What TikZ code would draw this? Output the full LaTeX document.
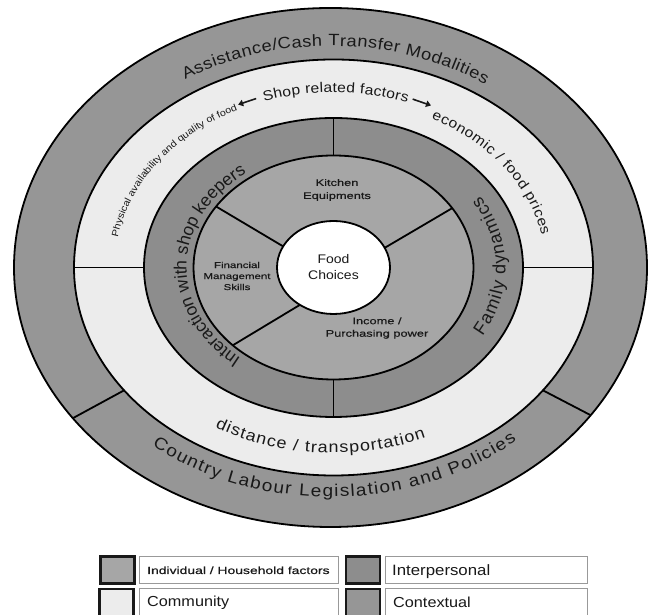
\documentclass[tikz,border=0pt]{standalone}
\usepackage{fontspec}
\setmainfont{Liberation Sans}
\newfontfamily\dfont[FakeStretch=1.12]{Liberation Sans}
\newfontfamily\sfontn{Liberation Sans}
\newfontfamily\wfont[FakeStretch=1.35,FakeBold=0.6]{Liberation Sans}
\usetikzlibrary{decorations.text, calc, arrows.meta}
\definecolor{ctxgray}{RGB}{150,150,150}
\definecolor{intgray}{RGB}{141,141,141}
\definecolor{indgray}{RGB}{166,166,166}
\definecolor{comgray}{RGB}{236,236,236}
\definecolor{txt}{RGB}{25,25,25}
\tikzset{
  ring/.style={draw=black, line width=1.8pt},
  divider/.style={draw=black, line width=1.8pt},
  shoparrow/.style={draw=txt, line width=1.6pt, -{Triangle[length=5pt,width=6.5pt]}},
  swatch/.style={draw=black!90, line width=2.2pt, minimum width=34pt, minimum height=27pt, inner sep=0pt},
  legbox/.style={draw=black!40, line width=1pt, fill=white, minimum width=199pt, minimum height=27pt, inner sep=0pt},
  lbl/.style={inner sep=0pt, text=txt, align=center},
  leglbl/.style={inner sep=0pt, text=txt, anchor=base west}
}
\begin{document}
\begin{tikzpicture}[x=1pt, y=1pt]
\useasboundingbox (0,0) rectangle (648,615);
\clip (0,0) rectangle (648,615);
\fill[white] (0,0) rectangle (648,615);
\coordinate (c) at (333.5,347.5);
\coordinate (co) at (330.5,347.5);

% rings
\draw[ring, fill=ctxgray] (co) ellipse [x radius=316.5pt, y radius=259.5pt];
\draw[ring, fill=comgray] (c) ellipse [x radius=259.5pt, y radius=208pt];
\draw[ring, fill=intgray] (c) ellipse [x radius=189.5pt, y radius=149.5pt];
\draw[ring, fill=indgray] (c) ellipse [x radius=140pt, y radius=112pt];
\draw[ring, fill=white] (c) ellipse [x radius=56.5pt, y radius=46.5pt];

% individual dividers
\coordinate (i1a) at ($(c)+(153:56.5pt and 46.5pt)$);
\coordinate (i1b) at ($(c)+(147:140pt and 112pt)$);
\coordinate (i2a) at ($(c)+(25:56.5pt and 46.5pt)$);
\coordinate (i2b) at ($(c)+(32:140pt and 112pt)$);
\coordinate (i3a) at ($(c)+(233.5:56.5pt and 46.5pt)$);
\coordinate (i3b) at ($(c)+(224:140pt and 112pt)$);
\draw[divider] (i1a) -- (i1b);
\draw[divider] (i2a) -- (i2b);
\draw[divider] (i3a) -- (i3b);

% interpersonal dividers
\coordinate (p1a) at ($(c)+(90:140pt and 112pt)$);
\coordinate (p1b) at ($(c)+(90:189.5pt and 149.5pt)$);
\coordinate (p2a) at ($(c)+(270:140pt and 112pt)$);
\coordinate (p2b) at ($(c)+(270:189.5pt and 149.5pt)$);
\draw[divider] (p1a) -- (p1b);
\draw[divider] (p2a) -- (p2b);

% community dividers
\coordinate (m1a) at ($(c)+(180:189.5pt and 149.5pt)$);
\coordinate (m1b) at ($(c)+(180:259.5pt and 208pt)$);
\coordinate (m2a) at ($(c)+(0:189.5pt and 149.5pt)$);
\coordinate (m2b) at ($(c)+(0:259.5pt and 208pt)$);
\draw[divider] (m1a) -- (m1b);
\draw[divider] (m2a) -- (m2b);

% contextual dividers
\coordinate (x1a) at ($(c)+(216.2:259.5pt and 208pt)$);
\coordinate (x1b) at ($(co)+(215.5:316.5pt and 259.5pt)$);
\coordinate (x2a) at ($(c)+(-36.2:259.5pt and 208pt)$);
\coordinate (x2b) at ($(co)+(-34.7:316.5pt and 259.5pt)$);
\draw[divider] (x1a) -- (x1b);
\draw[divider] (x2a) -- (x2b);

% curved texts
\path[decorate, decoration={text along path, text align={fit to path},
  text={|\dfont\fontsize{16.3}{20}\selectfont\color{txt}|Assistance/Cash Transfer Modalities}}]
  ($(co)+(122:274.5pt and 221.5pt)$) arc[start angle=122, end angle=55.7, x radius=274.5pt, y radius=221.5pt];

\path[decorate, decoration={text along path, text align={fit to path},
  text={|\dfont\fontsize{17}{20}\selectfont\color{txt}|Country Labour Legislation and Policies}}]
  ($(co)+(231:283.4pt and 229.5pt)$) arc[start angle=231, end angle=311, x radius=283.4pt, y radius=229.5pt];

\path[decorate, decoration={text along path, text align={fit to path},
  text={|\dfont\fontsize{16}{18}\selectfont\color{txt}|distance / transportation}}]
  ($(c)+(239.4:232.5pt and 185.5pt)$) arc[start angle=239.4, end angle=293.4, x radius=232.5pt, y radius=185.5pt];

\path[decorate, decoration={text along path, text align={fit to path},
  text={|\dfont\fontsize{14}{17}\selectfont\color{txt}|Shop related factors}}]
  ($(c)+(108.5:219pt and 175pt)$) arc[start angle=108.5, end angle=70.3, x radius=219pt, y radius=175pt];

\path[decorate, decoration={text along path, text align={fit to path},
  text={|\dfont\fontsize{9.5}{11}\selectfont\color{txt}|Physical availability and quality of food}}]
  ($(c)+(170:219pt and 175pt)$) arc[start angle=170, end angle=116.5, x radius=219pt, y radius=175pt];

\path[decorate, decoration={text along path, text align={fit to path},
  text={|\dfont\fontsize{14}{18}\selectfont\color{txt}|economic / food prices}}]
  ($(c)+(62.5:212pt and 168pt)$) arc[start angle=62.5, end angle=11, x radius=212pt, y radius=168pt];

\path[decorate, decoration={text along path, text align={fit to path},
  text={|\sfontn\fontsize{17.5}{20}\selectfont\color{txt}|Interaction with shop keepers}}]
  ($(c)+(231:147pt and 117pt)$) arc[start angle=231, end angle=127, x radius=147pt, y radius=117pt];

\path[decorate, decoration={text along path, text align={fit to path},
  text={|\sfontn\fontsize{18}{20}\selectfont\color{txt}|Family dynamics}}]
  ($(c)+(-30:172pt and 137pt)$) arc[start angle=-30, end angle=31.5, x radius=172pt, y radius=137pt];

% shop arrows
\coordinate (la1) at ($(c)+(110.2:224pt and 180pt)$);
\coordinate (la2) at ($(c)+(115.2:224pt and 180pt)$);
\coordinate (ra1) at ($(c)+(69.3:224pt and 180pt)$);
\coordinate (ra2) at ($(c)+(64.2:224pt and 180pt)$);
\draw[shoparrow] (la1) -- (la2);
\draw[shoparrow] (ra1) -- (ra2);

% inner labels
\node[lbl, font=\dfont\fontsize{12.5}{16}\selectfont] (food) at (333.5,348) {Food\\Choices};
\node[lbl, font=\wfont\fontsize{9.5}{13}\selectfont] (kitchen) at (337,425) {Kitchen\\Equipments};
\node[lbl, font=\wfont\fontsize{8.5}{11}\selectfont] (finance) at (237,339) {Financial\\Management\\Skills};
\node[lbl, font=\wfont\fontsize{9.5}{12.5}\selectfont] (income) at (377,287) {Income /\\Purchasing power};

% legend
\node[swatch, fill=indgray] (swA) at (117.5,45) {};
\node[legbox] (tbA) at (239,45) {};
\node[swatch, fill=intgray] (swB) at (363,45) {};
\node[legbox, minimum width=202pt] (tbB) at (486,45) {};
\node[swatch, fill=comgray] (swC) at (116.5,12.5) {};
\node[legbox] (tbC) at (239,12.5) {};
\node[swatch, fill=ctxgray] (swD) at (363,12.5) {};
\node[legbox, minimum width=202pt] (tbD) at (486,12.5) {};
\node[leglbl, font=\wfont\fontsize{10.3}{12}\selectfont] (lA) at (147,41) {Individual / Household factors};
\node[leglbl, font=\dfont\fontsize{15}{17}\selectfont] (lB) at (392,39) {Interpersonal};
\node[leglbl, font=\dfont\fontsize{14.5}{17}\selectfont] (lC) at (147,8) {Community};
\node[leglbl, font=\dfont\fontsize{14.5}{17}\selectfont] (lD) at (393,7) {Contextual};
\end{tikzpicture}
\end{document}
